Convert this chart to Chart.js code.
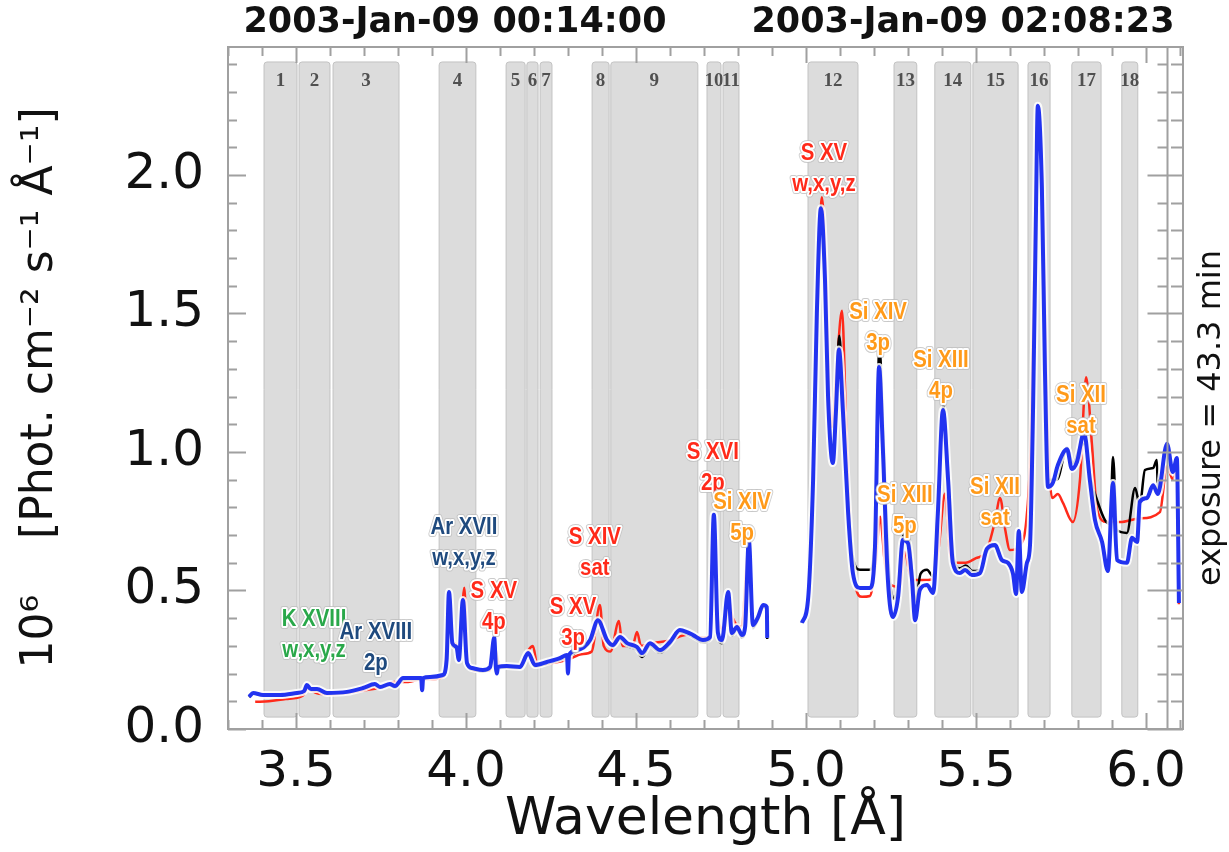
<!DOCTYPE html>
<html>
<head>
<meta charset="utf-8">
<script src="https://cdn.jsdelivr.net/npm/chart.js@4.4.1/dist/chart.umd.min.js"></script>
<style>
  body { margin: 0; background: #fff; }
  #wrap { width: 1229px; height: 852px; }
</style>
</head>
<body>
<div id="wrap"><canvas id="spec" width="1229" height="852"></canvas></div>
<script>
// wavelength [A], flux [1e6 phot cm-2 s-1 A-1]; two exposures, gap between 4.89 and 4.99
const blueLow = [[3.362,0.116],[3.374,0.13],[3.403,0.123],[3.453,0.123],[3.503,0.13],[3.524,0.137],[3.532,0.159],[3.544,0.144],[3.562,0.144],[3.591,0.13],[3.65,0.134],[3.697,0.148],[3.732,0.162],[3.747,0.152],[3.776,0.162],[3.791,0.155],[3.815,0.184],[3.835,0.184],[3.868,0.184],[3.871,0.14],[3.874,0.184],[3.894,0.188],[3.932,0.195],[3.943,0.249],[3.95,0.495],[3.96,0.31],[3.972,0.296],[3.979,0.249],[3.991,0.466],[4.003,0.238],[4.018,0.22],[4.05,0.213],[4.071,0.224],[4.083,0.33],[4.088,0.22],[4.091,0.2],[4.094,0.224],[4.12,0.227],[4.159,0.224],[4.183,0.274],[4.203,0.231],[4.238,0.242],[4.276,0.256],[4.297,0.267],[4.3,0.2],[4.303,0.267],[4.326,0.285],[4.365,0.321],[4.388,0.393],[4.415,0.321],[4.432,0.303],[4.453,0.332],[4.474,0.31],[4.503,0.296],[4.518,0.274],[4.541,0.31],[4.571,0.285],[4.6,0.314],[4.629,0.357],[4.65,0.35],[4.668,0.339],[4.697,0.321],[4.718,0.332],[4.729,0.773],[4.741,0.347],[4.753,0.321],[4.771,0.495],[4.782,0.347],[4.797,0.368],[4.812,0.339],[4.821,0.368],[4.832,0.682],[4.844,0.375],[4.859,0.404],[4.874,0.448],[4.885,0.44],[4.886,0.329]];
const blueHigh = [[4.988,0.383],[5.006,0.466],[5.021,0.9],[5.032,1.5],[5.044,1.88],[5.056,1.62],[5.065,1.2],[5.079,0.96],[5.088,1.14],[5.097,1.37],[5.109,1.14],[5.124,0.78],[5.138,0.563],[5.159,0.509],[5.188,0.509],[5.203,0.657],[5.215,1.307],[5.226,1.018],[5.241,0.538],[5.256,0.404],[5.271,0.477],[5.285,0.682],[5.3,0.671],[5.312,0.538],[5.321,0.393],[5.335,0.502],[5.356,0.52],[5.374,0.491],[5.388,0.78],[5.403,1.152],[5.418,0.9],[5.432,0.6],[5.453,0.563],[5.468,0.574],[5.488,0.556],[5.512,0.563],[5.532,0.65],[5.556,0.664],[5.576,0.61],[5.594,0.6],[5.609,0.56],[5.618,0.487],[5.626,0.715],[5.635,0.495],[5.65,0.6],[5.659,0.664],[5.668,1.16],[5.676,1.82],[5.682,2.25],[5.694,1.95],[5.703,1.29],[5.712,0.874],[5.726,0.888],[5.741,0.953],[5.768,1.01],[5.782,0.939],[5.797,0.964],[5.818,1.07],[5.835,0.899],[5.85,0.755],[5.871,0.675],[5.888,0.57],[5.903,0.888],[5.915,0.61],[5.944,0.6],[5.959,0.69],[5.974,0.675],[5.982,0.82],[6.003,0.834],[6.021,0.88],[6.035,0.848],[6.062,1.03],[6.079,0.928],[6.091,0.978],[6.097,0.455]];

const blackLow = [[3.362,0.115],[3.374,0.128],[3.403,0.12],[3.453,0.12],[3.503,0.128],[3.524,0.135],[3.532,0.155],[3.544,0.14],[3.562,0.14],[3.591,0.128],[3.65,0.132],[3.697,0.145],[3.732,0.158],[3.747,0.148],[3.776,0.158],[3.791,0.15],[3.815,0.178],[3.835,0.18],[3.871,0.18],[3.894,0.185],[3.932,0.19],[3.943,0.24],[3.95,0.49],[3.96,0.3],[3.972,0.29],[3.979,0.245],[3.991,0.46],[4.003,0.232],[4.018,0.215],[4.05,0.208],[4.071,0.22],[4.083,0.32],[4.094,0.22],[4.12,0.222],[4.159,0.22],[4.183,0.27],[4.203,0.226],[4.238,0.236],[4.276,0.25],[4.297,0.26],[4.326,0.278],[4.365,0.314],[4.388,0.385],[4.415,0.315],[4.432,0.297],[4.453,0.325],[4.474,0.3],[4.503,0.285],[4.518,0.26],[4.541,0.3],[4.571,0.275],[4.6,0.305],[4.629,0.35],[4.65,0.342],[4.668,0.33],[4.697,0.312],[4.718,0.322],[4.729,0.765],[4.741,0.337],[4.753,0.31],[4.771,0.485],[4.782,0.337],[4.797,0.36],[4.812,0.33],[4.821,0.36],[4.832,0.675],[4.844,0.365],[4.859,0.395],[4.874,0.44],[4.885,0.432],[4.886,0.325]];
const blackHigh = [[4.988,0.383],[5.006,0.466],[5.021,0.9],[5.032,1.5],[5.044,1.89],[5.056,1.64],[5.065,1.22],[5.079,0.98],[5.088,1.18],[5.098,1.42],[5.109,1.18],[5.124,0.82],[5.138,0.62],[5.159,0.575],[5.188,0.575],[5.203,0.7],[5.216,1.38],[5.228,1.05],[5.243,0.6],[5.258,0.47],[5.271,0.52],[5.287,0.7],[5.302,0.69],[5.314,0.55],[5.322,0.46],[5.337,0.56],[5.356,0.575],[5.374,0.55],[5.388,0.8],[5.404,1.17],[5.419,0.92],[5.434,0.62],[5.453,0.58],[5.47,0.59],[5.49,0.57],[5.512,0.575],[5.532,0.64],[5.556,0.66],[5.576,0.61],[5.594,0.6],[5.609,0.57],[5.618,0.5],[5.626,0.7],[5.635,0.51],[5.65,0.6],[5.659,0.67],[5.668,1.16],[5.676,1.82],[5.682,2.24],[5.694,1.96],[5.703,1.3],[5.712,0.9],[5.726,0.9],[5.738,0.9],[5.768,1.015],[5.785,0.96],[5.806,1.018],[5.82,1.03],[5.838,0.9],[5.856,0.827],[5.879,0.755],[5.895,0.74],[5.903,0.982],[5.915,0.718],[5.944,0.708],[5.968,0.87],[5.982,0.809],[5.997,0.935],[6.021,0.942],[6.032,0.971],[6.035,0.863],[6.062,1.018],[6.079,0.93],[6.091,0.975],[6.097,0.46]];

const redLow = [[3.38,0.098],[3.42,0.1],[3.47,0.108],[3.52,0.12],[3.533,0.145],[3.56,0.13],[3.6,0.125],[3.65,0.13],[3.7,0.14],[3.75,0.15],[3.79,0.17],[3.83,0.17],[3.87,0.18],[3.9,0.18],[3.935,0.19],[3.952,0.47],[3.962,0.3],[3.97,0.31],[3.98,0.26],[3.995,0.51],[4.005,0.24],[4.03,0.21],[4.07,0.21],[4.084,0.3],[4.098,0.23],[4.15,0.22],[4.197,0.3],[4.21,0.23],[4.26,0.24],[4.3,0.25],[4.34,0.27],[4.37,0.28],[4.394,0.448],[4.405,0.3],[4.425,0.28],[4.45,0.39],[4.46,0.3],[4.49,0.3],[4.503,0.35],[4.515,0.3],[4.55,0.31],[4.6,0.32],[4.65,0.34],[4.7,0.33],[4.72,0.34],[4.729,0.74],[4.74,0.4],[4.76,0.36],[4.772,0.47],[4.785,0.4],[4.81,0.37],[4.832,0.66],[4.845,0.38],[4.86,0.4],[4.874,0.44],[4.885,0.43],[4.886,0.33]];
const redHigh = [[4.99,0.39],[5.006,0.45],[5.021,0.85],[5.034,1.5],[5.047,1.92],[5.06,1.6],[5.068,1.25],[5.076,1.09],[5.09,1.3],[5.106,1.51],[5.118,1.1],[5.13,0.7],[5.145,0.52],[5.165,0.477],[5.188,0.48],[5.205,0.6],[5.218,0.766],[5.232,0.6],[5.25,0.52],[5.275,0.513],[5.291,0.64],[5.305,0.56],[5.32,0.538],[5.345,0.538],[5.37,0.54],[5.39,0.65],[5.409,0.85],[5.422,0.65],[5.44,0.6],[5.47,0.6],[5.5,0.617],[5.53,0.64],[5.556,0.75],[5.571,0.834],[5.586,0.72],[5.6,0.646],[5.63,0.664],[5.648,0.75],[5.66,1.0],[5.672,1.7],[5.684,2.22],[5.697,1.9],[5.708,1.2],[5.724,0.834],[5.741,0.848],[5.756,0.816],[5.785,0.747],[5.806,0.9],[5.824,1.27],[5.841,1.03],[5.856,0.794],[5.885,0.747],[5.924,0.747],[5.98,0.76],[6.041,0.783],[6.062,0.95],[6.079,0.9],[6.091,0.95],[6.097,0.45]];

// numbered wavelength bands
const bandStart = [3.406,3.509,3.609,3.921,4.118,4.179,4.218,4.371,4.426,4.709,4.756,5.006,5.259,5.379,5.491,5.653,5.782,5.929];
const bandEnd   = [3.503,3.600,3.803,4.029,4.174,4.212,4.253,4.421,4.682,4.750,4.803,5.153,5.326,5.485,5.624,5.718,5.868,5.976];
const bandLabel = ['1','2','3','4','5','6','7','8','9','10','11','12','13','14','15','16','17','18'];
const bandTop = 2.408, bandBottom = 0.043;

// line identifications (two text lines each)
const ionName  = ['K XVIII','Ar XVIII','Ar XVII','S XV','S XIV','S XV','S XVI','Si XIV','S XV','Si XIV','Si XIII','Si XII','Si XIII','Si XII'];
const ionSub   = ['w,x,y,z','2p','w,x,y,z','4p','sat','3p','2p','5p','w,x,y,z','3p','4p','sat','5p','sat'];
const ionColor = ['#2aa84a','#1f4a7e','#1f4a7e','#ff2a1a','#ff2a1a','#ff2a1a','#ff2a1a','#ff9a1a','#ff2a1a','#ff9a1a','#ff9a1a','#ff9a1a','#ff9a1a','#ff9a1a'];
const ionWave  = [3.553,3.735,3.994,4.082,4.379,4.315,4.726,4.812,5.053,5.212,5.397,5.809,5.291,5.556];
const ionFlux  = [0.394,0.350,0.729,0.498,0.693,0.440,1.000,0.819,2.079,1.505,1.332,1.206,0.845,0.874];

const dateLeft = '2003-Jan-09 00:14:00';
const dateRight = '2003-Jan-09 02:08:23';
const exposureText = 'exposure = 43.3 min';

function toPoints(low, high) {
  const pts = low.map(p => ({x: p[0], y: p[1]}));
  pts.push({x: 4.94, y: null});
  return pts.concat(high.map(p => ({x: p[0], y: p[1]})));
}

const bandsPlugin = {
  id: 'bands',
  beforeDatasetsDraw(chart) {
    const ctx = chart.ctx, x = chart.scales.x, y = chart.scales.y;
    const top = y.getPixelForValue(bandTop), bot = y.getPixelForValue(bandBottom);
    ctx.save();
    for (let i = 0; i < bandStart.length; i++) {
      const x0 = x.getPixelForValue(bandStart[i]), x1 = x.getPixelForValue(bandEnd[i]);
      ctx.beginPath();
      ctx.roundRect(x0, top, x1 - x0, bot - top, 3);
      ctx.fillStyle = '#dcdcdc';
      ctx.fill();
      ctx.strokeStyle = '#c2c2c2';
      ctx.lineWidth = 1;
      ctx.stroke();
      ctx.fillStyle = '#505050';
      ctx.font = 'bold 19px "Liberation Serif"';
      ctx.textAlign = 'center';
      ctx.textBaseline = 'middle';
      ctx.fillText(bandLabel[i], (x0 + x1) / 2, top + 19);
    }
    ctx.restore();
  }
};

function haloText(ctx, txt, px, py, color, font, sx) {
  ctx.save();
  ctx.translate(px, py);
  ctx.scale(sx, 1);
  ctx.font = font;
  ctx.textAlign = 'center';
  ctx.textBaseline = 'middle';
  ctx.lineJoin = 'round';
  ctx.strokeStyle = 'rgba(190,190,190,0.8)';
  ctx.lineWidth = 6;
  ctx.strokeText(txt, 0, 0);
  ctx.strokeStyle = '#fff';
  ctx.lineWidth = 4;
  ctx.strokeText(txt, 0, 0);
  ctx.fillStyle = color;
  ctx.fillText(txt, 0, 0);
  ctx.restore();
}

const framePlugin = {
  id: 'frame',
  afterDatasetsDraw(chart) {
    const ctx = chart.ctx, a = chart.chartArea, x = chart.scales.x, y = chart.scales.y;
    ctx.save();
    ctx.strokeStyle = '#a0a0a0';
    ctx.lineWidth = 2;
    ctx.beginPath();
    // x ticks, bottom and top, every 0.1 A
    for (let k = 33; k <= 61; k++) {
      const px = Math.round(x.getPixelForValue(k / 10)) + 0.5;
      const len = k % 5 === 0 ? 16 : 9;
      ctx.moveTo(px, a.bottom); ctx.lineTo(px, a.bottom - len);
      ctx.moveTo(px, a.top); ctx.lineTo(px, a.top + len);
    }
    // y ticks, left, right and inner right
    const inner = Math.round(x.getPixelForValue(6.062)) + 0.5;
    for (let k = 0; k <= 24; k++) {
      const py = Math.round(y.getPixelForValue(k / 10)) + 0.5;
      const major = k % 5 === 0;
      ctx.moveTo(a.left, py); ctx.lineTo(a.left + (major ? 18 : 9), py);
      ctx.moveTo(a.right, py); ctx.lineTo(a.right - (major ? 16 : 12), py);
      ctx.moveTo(inner, py); ctx.lineTo(inner - (major ? 20 : 10), py);
    }
    ctx.moveTo(inner, a.top); ctx.lineTo(inner, a.bottom);
    ctx.stroke();
    ctx.strokeRect(a.left, a.top, a.right - a.left, a.bottom - a.top);
    ctx.restore();

    // line identifications
    for (let i = 0; i < ionName.length; i++) {
      const px = x.getPixelForValue(ionWave[i]), py = y.getPixelForValue(ionFlux[i]);
      haloText(ctx, ionName[i], px, py, ionColor[i], 'bold 24px "Liberation Sans"', 0.85);
      haloText(ctx, ionSub[i], px, py + 31, ionColor[i], 'bold 24px "Liberation Sans"', 0.85);
    }
  },
  afterDraw(chart) {
    const ctx = chart.ctx, a = chart.chartArea;
    ctx.save();
    ctx.fillStyle = '#111';
    ctx.font = 'bold 35px "DejaVu Sans"';
    ctx.textAlign = 'center';
    ctx.textBaseline = 'middle';
    ctx.fillText(dateLeft, a.left + 227, 23);
    ctx.fillText(dateRight, a.left + 735, 23);
    ctx.translate(1212, (a.top + a.bottom) / 2 + 30);
    ctx.rotate(-Math.PI / 2);
    ctx.font = '32px "DejaVu Sans"';
    ctx.fillText(exposureText, 0, 0);
    ctx.restore();
  }
};

const tickFont = {family: 'DejaVu Sans', size: 50};

new Chart(document.getElementById('spec'), {
  type: 'line',
  data: {
    datasets: [
      {data: toPoints(blueLow, blueHigh), borderColor: '#2233f0', borderWidth: 4},
      {data: toPoints(blueLow, blueHigh), borderColor: 'rgba(255,255,255,0.85)', borderWidth: 8},
      {data: toPoints(blackLow, blackHigh), borderColor: '#000000', borderWidth: 2.5},
      {data: toPoints(redLow, redHigh), borderColor: '#ff2a1a', borderWidth: 2.5}
    ]
  },
  options: {
    responsive: false,
    animation: false,
    spanGaps: false,
    layout: {padding: {top: 47, right: 46, left: 0, bottom: 0}},
    elements: {point: {radius: 0}, line: {cubicInterpolationMode: 'monotone', borderJoinStyle: 'round'}},
    plugins: {legend: {display: false}, tooltip: {enabled: false}},
    scales: {
      x: {
        type: 'linear', min: 3.3, max: 6.109,
        grid: {display: false}, border: {display: false},
        ticks: {stepSize: 0.5, includeBounds: false, maxRotation: 0, font: tickFont, color: '#111', padding: 6,
                callback: v => v.toFixed(1)},
        title: {display: true, text: 'Wavelength [Å]', font: {family: 'DejaVu Sans', size: 52}, color: '#111', padding: 0},
        afterFit: s => { s.height = 123; }
      },
      y: {
        min: 0, max: 2.462,
        grid: {display: false}, border: {display: false},
        ticks: {stepSize: 0.5, includeBounds: false, font: tickFont, color: '#111', padding: 16,
                callback: v => v.toFixed(1)},
        title: {display: true, text: '10⁶    [Phot. cm⁻² s⁻¹ Å⁻¹]', font: {family: 'DejaVu Sans', size: 44}, color: '#111', padding: {top: 14, bottom: 0}},
        afterFit: s => { s.width = 228; }
      }
    }
  },
  plugins: [bandsPlugin, framePlugin]
});
</script>
</body>
</html>
